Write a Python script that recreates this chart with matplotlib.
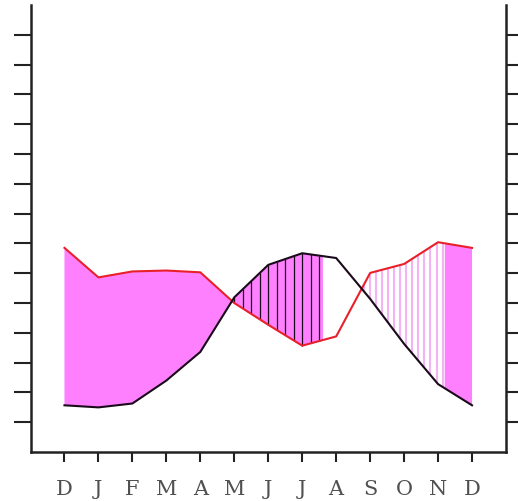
import numpy as np
import matplotlib
matplotlib.use("Agg")
import matplotlib.pyplot as plt

# Monthly climate values (December repeated at both ends)
months = list("DJFMAMJJASOND")
temperature = [1.57, 1.50, 1.63, 2.40, 3.36, 5.19, 6.28, 6.67, 6.51, 5.14, 3.63, 2.28, 1.57]
precipitation = [6.85, 5.86, 6.06, 6.09, 6.03, 5.00, 4.27, 3.57, 3.88, 6.01, 6.31, 7.04, 6.85]
y_ticks = list(range(1, 15))

# Extents of the shaded bands (month units)
dry_hatch_end = 7.6
dry_hatch_step = 0.25
wet_stripe_start = 8.83
wet_stripe_end = 11.15
wet_stripe_step = 0.177
wet_solid_start = 11.2

MAGENTA = "#ff80ff"
PALE = "#f4b4f4"
RED = "#e8202a"
DARK = "#1a0a1a"

x = np.arange(len(months))
xf = np.linspace(0, len(months) - 1, 2401)
tf = np.interp(xf, x, temperature)
pf = np.interp(xf, x, precipitation)

fig = plt.figure(figsize=(5.18, 5.02), dpi=100)
ax = fig.add_axes([30.5 / 518, 1 - 453.1 / 502, 475.5 / 518, 447.2 / 502])

# humid season, solid fill
solid = (pf >= tf) & ((xf <= 6) | (xf >= wet_solid_start))
ax.fill_between(xf, tf, pf, where=solid, color=MAGENTA, lw=0, interpolate=True)

# dry season, filled and hatched with dark verticals
dry = (tf >= pf) & (xf <= dry_hatch_end)
ax.fill_between(xf, pf, tf, where=dry, color=MAGENTA, lw=0, interpolate=True)
hx = np.arange(5.0, dry_hatch_end - 0.05, dry_hatch_step)
ax.vlines(hx, np.interp(hx, x, precipitation), np.interp(hx, x, temperature),
          color=DARK, lw=0.9, zorder=3)

# humid season, pale stripes
sx = np.arange(wet_stripe_start, wet_stripe_end, wet_stripe_step)
ax.vlines(sx, np.interp(sx, x, temperature), np.interp(sx, x, precipitation),
          color=PALE, lw=1.5, zorder=2)

ax.plot(x, precipitation, color=RED, lw=1.5, zorder=4)
ax.plot(x, temperature, color=DARK, lw=1.5, zorder=4)

ax.set_xlim(-1, 13)
ax.set_ylim(0, 15)
ax.set_xticks(x)
ax.set_xticklabels(months, family="DejaVu Serif", fontsize=15, color="#505050")
ax.set_yticks(y_ticks)
ax.set_yticklabels([])
ax.tick_params(axis="y", which="both", direction="out", length=12, width=1.5,
               left=True, right=True, color="#222222")
ax.tick_params(axis="x", direction="out", length=7.5, width=1.5, pad=12,
               color="#222222")
ax.spines["top"].set_visible(False)
for s in ("left", "right", "bottom"):
    ax.spines[s].set_linewidth(1.8)
    ax.spines[s].set_color("#222222")

fig.savefig("out.png", dpi=100)
